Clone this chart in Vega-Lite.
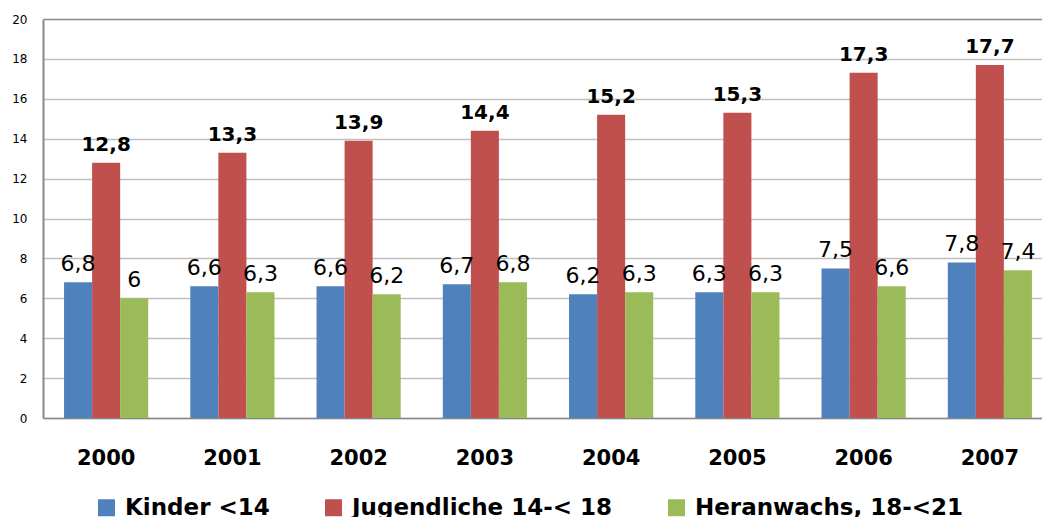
{
  "$schema": "https://vega.github.io/schema/vega-lite/v6.json",
  "autosize": {"type": "none"},
  "padding": {"left": 43, "top": 19, "right": 0, "bottom": 99},
  "width": 999,
  "height": 399,
  "config": {
    "view": {"stroke": null},
    "font": "DejaVu Sans",
    "locale": {"number": {"decimal": ",", "thousands": ".", "grouping": [3], "currency": ["", " €"]}}
  },
  "data": {
    "values": [
      {"jahr": "2000", "gruppe": "Kinder <14", "wert": 6.8},
      {"jahr": "2000", "gruppe": "Jugendliche 14-< 18", "wert": 12.8},
      {"jahr": "2000", "gruppe": "Heranwachs, 18-<21", "wert": 6},
      {"jahr": "2001", "gruppe": "Kinder <14", "wert": 6.6},
      {"jahr": "2001", "gruppe": "Jugendliche 14-< 18", "wert": 13.3},
      {"jahr": "2001", "gruppe": "Heranwachs, 18-<21", "wert": 6.3},
      {"jahr": "2002", "gruppe": "Kinder <14", "wert": 6.6},
      {"jahr": "2002", "gruppe": "Jugendliche 14-< 18", "wert": 13.9},
      {"jahr": "2002", "gruppe": "Heranwachs, 18-<21", "wert": 6.2},
      {"jahr": "2003", "gruppe": "Kinder <14", "wert": 6.7},
      {"jahr": "2003", "gruppe": "Jugendliche 14-< 18", "wert": 14.4},
      {"jahr": "2003", "gruppe": "Heranwachs, 18-<21", "wert": 6.8},
      {"jahr": "2004", "gruppe": "Kinder <14", "wert": 6.2},
      {"jahr": "2004", "gruppe": "Jugendliche 14-< 18", "wert": 15.2},
      {"jahr": "2004", "gruppe": "Heranwachs, 18-<21", "wert": 6.3},
      {"jahr": "2005", "gruppe": "Kinder <14", "wert": 6.3},
      {"jahr": "2005", "gruppe": "Jugendliche 14-< 18", "wert": 15.3},
      {"jahr": "2005", "gruppe": "Heranwachs, 18-<21", "wert": 6.3},
      {"jahr": "2006", "gruppe": "Kinder <14", "wert": 7.5},
      {"jahr": "2006", "gruppe": "Jugendliche 14-< 18", "wert": 17.3},
      {"jahr": "2006", "gruppe": "Heranwachs, 18-<21", "wert": 6.6},
      {"jahr": "2007", "gruppe": "Kinder <14", "wert": 7.8},
      {"jahr": "2007", "gruppe": "Jugendliche 14-< 18", "wert": 17.7},
      {"jahr": "2007", "gruppe": "Heranwachs, 18-<21", "wert": 7.4}
    ]
  },
  "encoding": {
    "x": {
      "field": "jahr",
      "type": "nominal",
      "scale": {"range": [0, 1010], "paddingInner": 0.3333, "paddingOuter": 0.1667},
      "axis": {
        "title": null,
        "labelAngle": 0,
        "labelFont": "DejaVu Sans",
        "labelFontWeight": "bold",
        "labelFontSize": 21,
        "labelColor": "#000000",
        "labelBaseline": "alphabetic",
        "labelPadding": 46,
        "ticks": false,
        "domainColor": "#888888",
        "domainWidth": 1.5
      }
    },
    "xOffset": {
      "field": "gruppe",
      "type": "nominal",
      "scale": {"domain": ["Kinder <14", "Jugendliche 14-< 18", "Heranwachs, 18-<21"], "paddingInner": 0, "paddingOuter": 0}
    },
    "y": {
      "field": "wert",
      "type": "quantitative",
      "scale": {"domain": [0, 20], "nice": false},
      "axis": {
        "title": null,
        "values": [0, 2, 4, 6, 8, 10, 12, 14, 16, 18, 20],
        "labelFont": "DejaVu Sans",
        "labelFontSize": 12,
        "labelColor": "#000000",
        "ticks": false,
        "labelPadding": 16,
        "domainColor": "#888888",
        "domainWidth": 2,
        "gridColor": {"condition": {"test": "datum.value == 20", "value": "#888888"}, "value": "#BFBFBF"},
        "gridWidth": 1.5
      }
    }
  },
  "layer": [
    {
      "mark": {"type": "bar", "opacity": 1},
      "encoding": {
        "color": {
          "field": "gruppe",
          "type": "nominal",
          "scale": {
            "domain": ["Kinder <14", "Jugendliche 14-< 18", "Heranwachs, 18-<21"],
            "range": ["#4F81BD", "#C0504D", "#9BBB59"]
          },
          "legend": {
            "title": null,
            "orient": "none",
            "direction": "horizontal",
            "legendX": 52,
            "legendY": 477,
            "symbolType": "square",
            "symbolSize": 289,
            "symbolStrokeWidth": 0,
            "symbolOpacity": 1,
            "labelFont": "DejaVu Sans",
            "labelFontWeight": "bold",
            "labelFontSize": 23,
            "labelColor": "#000000",
            "labelOffset": 7,
            "labelLimit": 400,
            "columnPadding": 52,
            "padding": 0
          }
        }
      }
    },
    {
      "transform": [{"filter": "datum.gruppe == 'Jugendliche 14-< 18'"}],
      "mark": {"type": "text", "baseline": "alphabetic", "dy": -12, "fontSize": 20, "fontWeight": "bold", "font": "DejaVu Sans", "color": "#000000"},
      "encoding": {"text": {"field": "wert", "type": "quantitative", "format": "~g"}}
    },
    {
      "transform": [{"filter": "datum.gruppe != 'Jugendliche 14-< 18'"}],
      "mark": {"type": "text", "baseline": "alphabetic", "dy": -11, "fontSize": 22, "font": "DejaVu Sans", "color": "#000000"},
      "encoding": {"text": {"field": "wert", "type": "quantitative", "format": "~g"}}
    }
  ]
}
